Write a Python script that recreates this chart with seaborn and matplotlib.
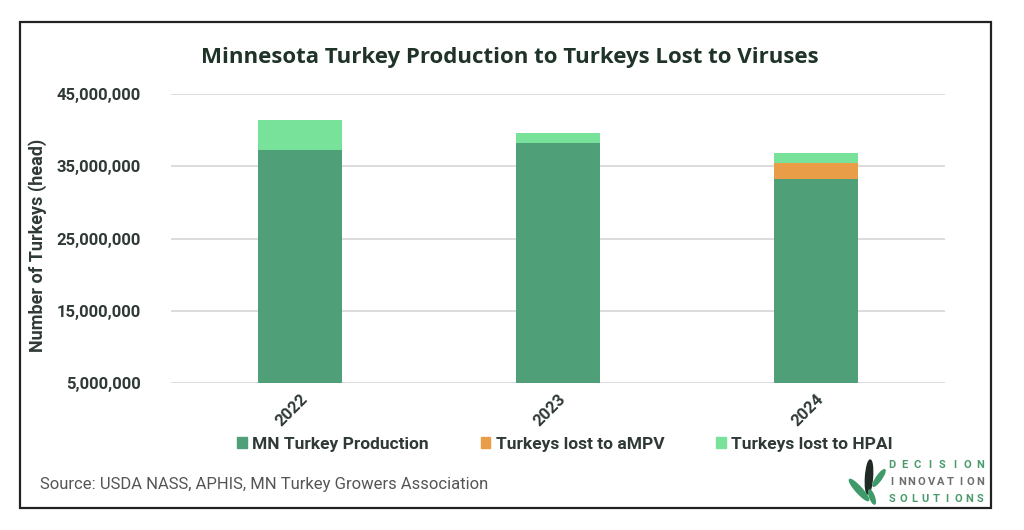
import matplotlib
matplotlib.use("Agg")
import matplotlib.pyplot as plt
import matplotlib.patches as mpatches
from matplotlib.ticker import FuncFormatter
import numpy as np
import pandas as pd
import seaborn as sns

# values (head)
years = ["2022", "2023", "2024"]
production = [37_200_000, 38_200_000, 33_300_000]
lost_ampv = [0, 0, 2_200_000]
lost_hpai = [4_200_000, 1_400_000, 1_400_000]

series_names = ["MN Turkey Production", "Turkeys lost to aMPV", "Turkeys lost to HPAI"]
colors = ["#4f9f78", "#e99d47", "#78e29a"]

title = "Minnesota Turkey Production to Turkeys Lost to Viruses"
y_label = "Number of Turkeys (head)"
source = "Source: USDA NASS, APHIS, MN Turkey Growers Association"
y_ticks = [5_000_000, 15_000_000, 25_000_000, 35_000_000, 45_000_000]

sns.set_theme(style="white")
plt.rcParams["font.family"] = ["Roboto", "DejaVu Sans"]

df = pd.DataFrame({"year": years, "prod": production, "ampv": lost_ampv, "hpai": lost_hpai})
df["lvl1"] = df["prod"]
df["lvl2"] = df["prod"] + df["ampv"]
df["lvl3"] = df["lvl2"] + df["hpai"]

W, H = 1024, 530
text_c = "#2f3a35"
fig = plt.figure(figsize=(W / 100, H / 100), dpi=100)
ax = fig.add_axes([171 / W, 1 - 383 / H, (945 - 171) / W, (383 - 94) / H])

# stacked bars: draw cumulative totals from top layer down
for col, c in zip(["lvl3", "lvl2", "lvl1"], colors[::-1]):
    sns.barplot(data=df, x="year", y=col, color=c, width=0.326, ax=ax,
                saturation=1, linewidth=0, zorder=3)

ax.set_ylim(5_000_000, 45_000_000)
ax.set_xlim(-0.5, 2.5)
ax.set_yticks(y_ticks)
ax.yaxis.set_major_formatter(FuncFormatter(lambda v, p: f"{int(v):,}"))
ax.grid(axis="y", color="#d9d9d9", lw=1.3, zorder=0)
ax.grid(axis="x", visible=False)
for s in ax.spines.values():
    s.set_visible(False)
ax.tick_params(axis="y", length=0, pad=22, labelsize=12, labelcolor=text_c)
ax.tick_params(axis="x", length=0, pad=6, labelsize=12, labelcolor=text_c)
for lab in ax.get_yticklabels():
    lab.set_fontweight("bold")
for lab in ax.get_xticklabels():
    lab.set_rotation(45)
    lab.set_ha("right")
    lab.set_va("top")
    lab.set_rotation_mode("anchor")
    lab.set_fontweight("bold")
ax.set_xlabel("")
ax.set_ylabel(y_label, fontsize=13, fontweight="bold", color=text_c)
ax.yaxis.set_label_coords((47 - 171) / (945 - 171), 0.477)

fig.text(510 / W, 1 - 57 / H, title, ha="center", va="center", fontsize=16,
         fontweight="bold", family=["Open Sans", "DejaVu Sans"], color="#1f3329")

handles = [mpatches.Patch(color=c) for c in colors]
fig.legend(handles, series_names, ncol=3, loc="center", bbox_to_anchor=(565 / W, 1 - 444 / H),
           frameon=False, handlelength=0.55, handleheight=0.55, handletextpad=0.3,
           columnspacing=3.0, prop={"size": 12.5, "weight": "bold"}, labelcolor=text_c)

fig.text(40 / W, 1 - 485 / H, source, ha="left", va="center", fontsize=12, color="#555555")

# outer frame
fig.add_artist(mpatches.Rectangle((20 / W, 1 - 508 / H), (991 - 20) / W, (508 - 22) / H,
                                  transform=fig.transFigure, fill=False, ec="#222222", lw=1.6))

# logo
lax = fig.add_axes([845 / W, 1 - 508 / H, 45 / W, 50 / H])
lax.set_xlim(0, 45)
lax.set_ylim(0, 50)
lax.axis("off")
lax.add_patch(mpatches.Ellipse((24, 31), 7, 34, angle=-4, color="#1f2a24"))
lax.add_patch(mpatches.Ellipse((14, 18), 6, 28, angle=42, color="#3f9a6a"))
lax.add_patch(mpatches.Ellipse((34, 30), 5, 20, angle=-35, color="#3f9a6a"))
lax.add_patch(mpatches.Ellipse((27, 11), 4.5, 15, angle=20, color="#3f9a6a"))

words = [("DECISION", 465, "#4a9a6c"), ("INNOVATION", 482, "#6d6d6d"), ("SOLUTIONS", 499, "#4a9a6c")]
for word, yy, wc in words:
    xs = np.linspace(892, 980, len(word))
    for ch, xx in zip(word, xs):
        fig.text(xx / W, 1 - yy / H, ch, ha="center", va="center", fontsize=8,
                 fontweight="bold", color=wc)

fig.savefig("out.png", dpi=100, facecolor="white")
